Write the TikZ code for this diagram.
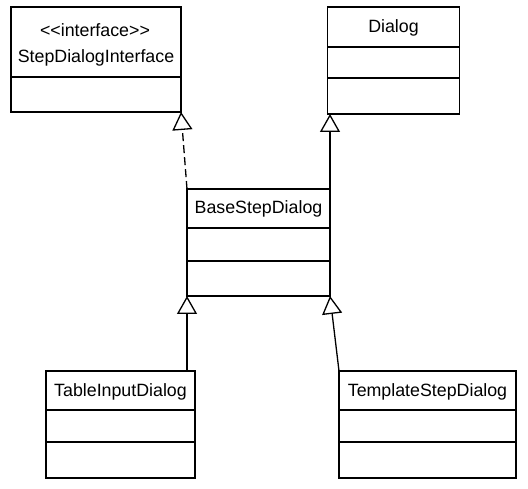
\documentclass[tikz,border=0pt]{standalone}
\usepackage{fontspec}
\setmainfont{Liberation Sans}
\usetikzlibrary{arrows.meta}
\begin{document}
\begin{tikzpicture}[x=1pt,y=-1pt,
  cls/.style={draw=black, line width=1.3pt, fill=white, inner sep=0pt, outer sep=0pt},
  sep/.style={draw=black, line width=1.3pt},
  lbl/.style={inner sep=0pt, font=\fontsize{17.8}{20}\selectfont},
  gen/.style={draw=black, line width=1.3pt, -{Triangle[open, length=18pt, width=20pt, fill=white]}},
  real/.style={gen, dash pattern=on 8pt off 4pt}
]
\useasboundingbox (0,0) rectangle (528,489);
% StepDialogInterface
\node[cls, minimum width=170, minimum height=105] (sdi) at (96,59.5) {};
\draw[sep] (sdi.west |- 0,77) -- (sdi.east |- 0,77);
\node[lbl] (sdist) at (95,30) {{<}{<}interface{>}{>}};
\node[lbl] (sdit) at (96,58) {StepDialogInterface};
% Dialog
\node[cls, minimum width=132, minimum height=107] (dlg) at (393.5,60.5) {};
\draw[sep] (dlg.west |- 0,47) -- (dlg.east |- 0,47);
\draw[sep] (dlg.west |- 0,78) -- (dlg.east |- 0,78);
\node[lbl] (dlgt) at (393.5,28) {Dialog};
% BaseStepDialog
\node[cls, minimum width=143, minimum height=107] (bsd) at (258.5,242.5) {};
\draw[sep] (bsd.west |- 0,228) -- (bsd.east |- 0,228);
\draw[sep] (bsd.west |- 0,261) -- (bsd.east |- 0,261);
\node[lbl] (bsdt) at (258.5,209) {BaseStepDialog};
% TableInputDialog
\node[cls, minimum width=149, minimum height=107] (tid) at (120.5,424.5) {};
\draw[sep] (tid.west |- 0,410) -- (tid.east |- 0,410);
\draw[sep] (tid.west |- 0,442) -- (tid.east |- 0,442);
\node[lbl] (tidt) at (120.5,392) {TableInputDialog};
% TemplateStepDialog
\node[cls, minimum width=177, minimum height=107] (tsd) at (427.5,424.5) {};
\draw[sep] (tsd.west |- 0,410) -- (tsd.east |- 0,410);
\draw[sep] (tsd.west |- 0,442) -- (tsd.east |- 0,442);
\node[lbl] (tsdt) at (427.5,392) {TemplateStepDialog};
% connectors
\draw[real] (bsd.north west) -- (sdi.south east);
\draw[gen] (bsd.north east) -- (bsd.north east |- dlg.south);
\draw[gen] (bsd.south west |- tid.north) -- (bsd.south west);
\draw[gen] (tsd.north west) -- (bsd.south east);
\end{tikzpicture}
\end{document}
